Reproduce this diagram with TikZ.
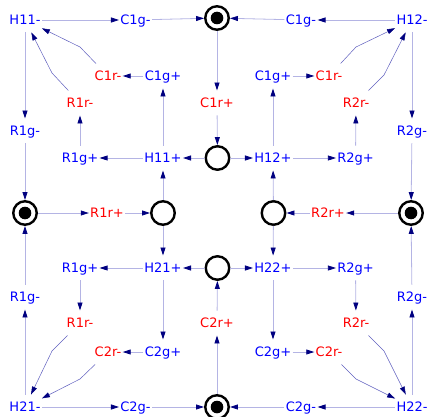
\documentclass[tikz,border=0pt]{standalone}
\usepackage{fontspec}
\setmainfont{DejaVu Sans}
\usetikzlibrary{arrows.meta}
\definecolor{edgec}{RGB}{180,180,228}
\definecolor{curvec}{RGB}{95,95,190}
\definecolor{tipc}{RGB}{0,0,128}
\definecolor{tblue}{RGB}{0,0,255}
\definecolor{tred}{RGB}{255,0,0}
\begin{document}
\begin{tikzpicture}[x=1pt,y=-1pt,
  tlabel/.style={inner xsep=1.2pt,inner ysep=0pt,text height=17pt,text depth=7.5pt,font=\fontsize{13}{15}\selectfont},
  bl/.style={tlabel,text=tblue},
  rd/.style={tlabel,text=tred},
  place/.style={circle,draw=black,line width=2.4pt,inner sep=0pt,minimum size=23.5pt},
  marked/.style={place,path picture={\fill[black] (path picture bounding box.center) circle (6.3pt);}},
  edge/.style={draw=edgec,line width=0.8pt,-{Triangle[length=8pt,width=5pt,color=tipc]}},
  curve/.style={draw=curvec,line width=0.5pt,-{Triangle[length=8pt,width=5pt,color=tipc]}}]
\useasboundingbox (0,0) rectangle (428,417);
% row 1
\node[bl] (H11m) at (25,20) {H11-};
\node[bl] (C1gmL) at (135.5,20) {C1g-};
\node[marked] (Ptop) at (217,18) {};
\node[bl] (C1gmR) at (301,20) {C1g-};
\node[bl] (H12m) at (412,20) {H12-};
% row 2
\node[rd] (C1rmL) at (108,76) {C1r-};
\node[bl] (C1gpL) at (163,76) {C1g+};
\node[bl] (C1gpR) at (273,76) {C1g+};
\node[rd] (C1rmR) at (329,76) {C1r-};
% row 3
\node[rd] (R1rmT) at (80,103) {R1r-};
\node[rd] (C1rp) at (217,103) {C1r+};
\node[rd] (R2rmT) at (356,103) {R2r-};
% row 4
\node[bl] (R1gmT) at (25,131) {R1g-};
\node[bl] (R2gmT) at (412,131) {R2g-};
% row 5
\node[bl] (R1gpT) at (80,158) {R1g+};
\node[bl] (H11p) at (163,158) {H11+};
\node[place] (Pct) at (217.5,158) {};
\node[bl] (H12p) at (273,158) {H12+};
\node[bl] (R2gpT) at (355.5,158) {R2g+};
% row 6
\node[marked] (PL) at (25,213) {};
\node[rd] (R1rp) at (107,213) {R1r+};
\node[place] (PLm) at (163,213) {};
\node[place] (PRm) at (273.5,213) {};
\node[rd] (R2rp) at (328,213) {R2r+};
\node[marked] (PR) at (411,213) {};
% row 7
\node[bl] (R1gpB) at (80,268) {R1g+};
\node[bl] (H21p) at (163,268) {H21+};
\node[place] (Pcb) at (217.5,268) {};
\node[bl] (H22p) at (273,268) {H22+};
\node[bl] (R2gpB) at (355.5,268) {R2g+};
% row 8
\node[bl] (R1gmB) at (25,297) {R1g-};
\node[bl] (R2gmB) at (412,297) {R2g-};
% row 9
\node[rd] (R1rmB) at (80,323) {R1r-};
\node[rd] (C2rp) at (217,323) {C2r+};
\node[rd] (R2rmB) at (356,323) {R2r-};
% row 10
\node[rd] (C2rmL) at (108,352) {C2r-};
\node[bl] (C2gpL) at (163,352) {C2g+};
\node[bl] (C2gpR) at (273,352) {C2g+};
\node[rd] (C2rmR) at (329,352) {C2r-};
% row 11
\node[bl] (H21m) at (25,407) {H21-};
\node[bl] (C2gmL) at (135.5,407) {C2g-};
\node[marked] (Pbot) at (217,407) {};
\node[bl] (C2gmR) at (301,407) {C2g-};
\node[bl] (H22m) at (412,407) {H22-};
% via points of the thin curves
\coordinate (v1) at (80,47);
\coordinate (v2) at (52,73);
\coordinate (v3) at (356,47);
\coordinate (v4) at (384,75);
\coordinate (v5) at (52,351);
\coordinate (v6) at (80,379);
\coordinate (v7) at (384,351);
\coordinate (v8) at (356,379);
% edges
\draw[edge] (H11m) -- (C1gmL);
\draw[edge] (C1gmL) -- (Ptop);
\draw[edge] (H12m) -- (C1gmR);
\draw[edge] (C1gmR) -- (Ptop);
\draw[edge] (Ptop) -- (C1rp);
\draw[edge] (C1rp) -- (Pct);
\draw[edge] (Pct) -- (H11p);
\draw[edge] (Pct) -- (H12p);
\draw[edge] (H11p) -- (R1gpT);
\draw[edge] (H11p) -- (C1gpL);
\draw[edge] (H12p) -- (R2gpT);
\draw[edge] (H12p) -- (C1gpR);
\draw[edge] (C1gpL) -- (C1rmL);
\draw[edge] (C1gpR) -- (C1rmR);
\draw[edge] (R1gpT) -- (R1rmT);
\draw[edge] (R2gpT) -- (R2rmT);
\draw[edge] (H11m) -- (R1gmT);
\draw[edge] (R1gmT) -- (PL);
\draw[edge] (H12m) -- (R2gmT);
\draw[edge] (R2gmT) -- (PR);
\draw[edge] (PL) -- (R1rp);
\draw[edge] (R1rp) -- (PLm);
\draw[edge] (PR) -- (R2rp);
\draw[edge] (R2rp) -- (PRm);
\draw[edge] (PLm) -- (H11p);
\draw[edge] (PLm) -- (H21p);
\draw[edge] (PRm) -- (H12p);
\draw[edge] (PRm) -- (H22p);
\draw[edge] (Pcb) -- (H21p);
\draw[edge] (Pcb) -- (H22p);
\draw[edge] (H21p) -- (R1gpB);
\draw[edge] (H21p) -- (C2gpL);
\draw[edge] (H22p) -- (R2gpB);
\draw[edge] (H22p) -- (C2gpR);
\draw[edge] (R1gpB) -- (R1rmB);
\draw[edge] (R2gpB) -- (R2rmB);
\draw[edge] (C2gpL) -- (C2rmL);
\draw[edge] (C2gpR) -- (C2rmR);
\draw[edge] (H21m) -- (R1gmB);
\draw[edge] (R1gmB) -- (PL);
\draw[edge] (H22m) -- (R2gmB);
\draw[edge] (R2gmB) -- (PR);
\draw[edge] (H21m) -- (C2gmL);
\draw[edge] (C2gmL) -- (Pbot);
\draw[edge] (H22m) -- (C2gmR);
\draw[edge] (C2gmR) -- (Pbot);
\draw[edge] (Pbot) -- (C2rp);
\draw[edge] (C2rp) -- (Pcb);
% thin curves
\draw[curve] (C1rmL) -- (v1) -- (H11m);
\draw[curve] (R1rmT) -- (v2) -- (H11m);
\draw[curve] (C1rmR) -- (v3) -- (H12m);
\draw[curve] (R2rmT) -- (v4) -- (H12m);
\draw[curve] (R1rmB) -- (v5) -- (H21m);
\draw[curve] (C2rmL) -- (v6) -- (H21m);
\draw[curve] (R2rmB) -- (v7) -- (H22m);
\draw[curve] (C2rmR) -- (v8) -- (H22m);
\end{tikzpicture}
\end{document}
